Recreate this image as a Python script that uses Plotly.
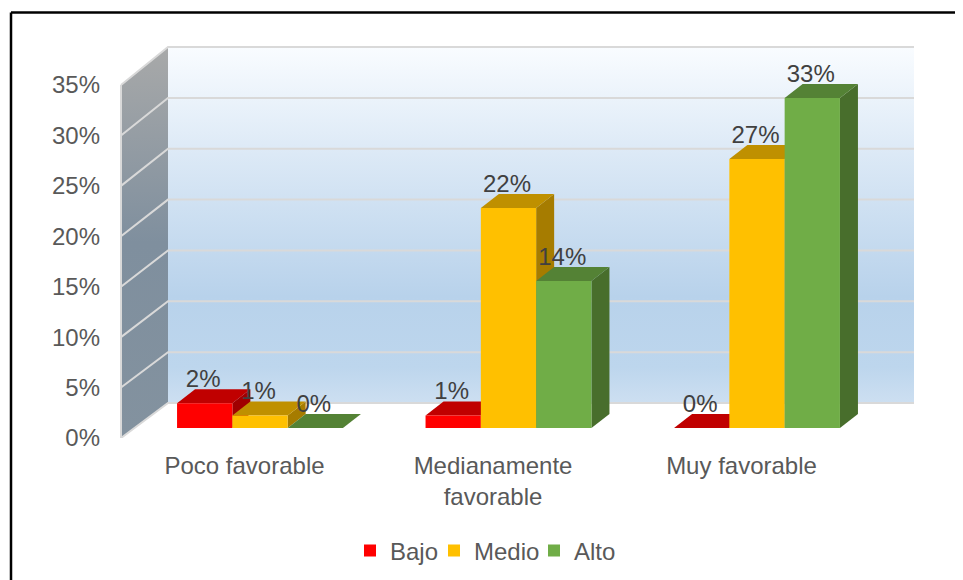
import plotly.graph_objects as go

categories = ["Poco favorable", "Medianamente<br>favorable", "Muy favorable"]
series_names = ["Bajo", "Medio", "Alto"]
bajo = [2.47, 1.25, 0.0]
medio = [1.25, 22.0, 26.9]
alto = [0.0, 14.7, 33.0]
bajo_labels = ["2%", "1%", "0%"]
medio_labels = ["1%", "22%", "27%"]
alto_labels = ["0%", "14%", "33%"]
y_ticks = [0, 5, 10, 15, 20, 25, 30, 35]
y_tick_labels = ["0%", "5%", "10%", "15%", "20%", "25%", "30%", "35%"]

front_colors = ["#ff0000", "#ffc000", "#70ad47"]
top_colors = ["#c00000", "#bf9000", "#548235"]
side_colors = ["#a00000", "#a67c00", "#486e2c"]
text_grey = "#595959"
label_grey = "#404040"
grid_grey = "#d9d9d9"
FONT = 24

# The page body adds 8 px around the figure; pixel references below are page pixels.
PAGE = 8
W, H = 963, 580
L = 100 - PAGE + 1
T = 20 - PAGE
B = H - (438 - PAGE)
R = 40
PX_PER_CAT = 248.5
X_ORIGIN = 260.0 - PAGE
def xv(px):
    return (px - X_ORIGIN) / PX_PER_CAT

x_range = [xv(L), xv(W - R)]
plot_w = W - L - R
plot_h = H - T - B
axis_px = 10.086
bar_px = 10.0
y_range = [0, plot_h / axis_px]
bar_range = [-1.0, plot_h / bar_px - 1.0]

bar_w = 55.3 / PX_PER_CAT
dx = 18 / PX_PER_CAT
dy = 1.4
back_dx = 47 / PX_PER_CAT
front_x = xv(121 - PAGE)
back_right = xv(914 - PAGE)
back_base = 3.47
back_scale = 1.0083
def back_y(v):
    return back_base + back_scale * v
def paper_x(px):
    return (px - PAGE - L) / plot_w
def paper_y(px):
    return (H - B - (px - PAGE)) / plot_h

fig = go.Figure()

# Walls, on the axis scale of the tick labels
top = y_ticks[-1]
fig.add_trace(go.Scatter(
    x=[front_x + back_dx, back_right, back_right, front_x + back_dx, front_x + back_dx],
    y=[back_y(0), back_y(0), back_y(top), back_y(top), back_y(0)],
    mode="lines", line=dict(width=0), fill="toself",
    fillgradient=dict(type="vertical", colorscale=[[0, "#cddff1"], [0.1, "#bdd6ed"], [0.3, "#b8d2eb"], [0.7, "#dce9f6"], [1, "#f9fcff"]]),
    showlegend=False, hoverinfo="skip"))
fig.add_trace(go.Scatter(
    x=[front_x, front_x + back_dx, front_x + back_dx, front_x, front_x],
    y=[0, back_y(0), back_y(top), top, 0],
    mode="lines", line=dict(width=0), fill="toself",
    fillgradient=dict(type="vertical", colorscale=[[0, "#83929f"], [0.5, "#7f8f9e"], [1, "#a8a9a9"]]),
    showlegend=False, hoverinfo="skip"))
gx, gy = [], []
for t in y_ticks:
    gx += [front_x, front_x + back_dx, back_right, None]
    gy += [t, back_y(t), back_y(t), None]
gx += [front_x, front_x, None]
gy += [0, top, None]
fig.add_trace(go.Scatter(x=gx, y=gy, mode="lines", line=dict(color=grid_grey, width=2),
                         showlegend=False, hoverinfo="skip"))

# Top and side faces, on the bar scale, under the front faces
all_vals = [bajo, medio, alto]
all_labels = [bajo_labels, medio_labels, alto_labels]
for i in range(len(categories)):
    for j, vals in enumerate(all_vals):
        v = vals[i]
        c = i + (j - 1) * bar_w
        xl, xr = c - bar_w / 2, c + bar_w / 2
        fig.add_trace(go.Scatter(
            x=[xr, xr + dx, xr + dx, xr, xr], y=[v, v + dy, dy, 0, v],
            mode="lines", line=dict(width=0), fill="toself", fillcolor=side_colors[j],
            xaxis="x", yaxis="y2", showlegend=False, hoverinfo="skip"))
        fig.add_trace(go.Scatter(
            x=[xl, xl + dx, xr + dx, xr, xl], y=[v, v + dy, v + dy, v, v],
            mode="lines", line=dict(width=0), fill="toself", fillcolor=top_colors[j],
            xaxis="x", yaxis="y2", showlegend=False, hoverinfo="skip"))

# Front faces and legends
x_idx = list(range(len(categories)))
legend_ids = ["legend", "legend2", "legend3"]
for j, vals in enumerate(all_vals):
    fig.add_trace(go.Bar(x=x_idx, y=vals, name=series_names[j], marker_color=front_colors[j],
                         marker_line_width=0, xaxis="x", yaxis="y3", hoverinfo="skip",
                         legend=legend_ids[j], showlegend=True))
# Data labels
text_dx = -1.5 / PX_PER_CAT
for j, vals in enumerate(all_vals):
    fig.add_trace(go.Scatter(
        x=[i + (j - 1) * bar_w + text_dx for i in x_idx], y=[v + 2.25 for v in vals],
        text=all_labels[j], mode="text", textposition="middle center",
        textfont=dict(family="Liberation Sans", size=FONT, color=label_grey),
        xaxis="x", yaxis="y3", showlegend=False, hoverinfo="skip"))

def legend_at(px):
    return dict(orientation="h", xref="container", yref="container",
                x=(px - PAGE) / W, xanchor="left", y=1 - (551 - PAGE) / H, yanchor="middle",
                font=dict(size=FONT, color=text_grey), bgcolor="rgba(0,0,0,0)",
                itemclick=False, itemdoubleclick=False)

label_shift = -15.5 / PX_PER_CAT
frame_x = paper_x(11)
frame_y = paper_y(12.5)
fig.update_layout(
    width=W, height=H,
    margin=dict(l=L, r=R, t=T, b=B, pad=0),
    paper_bgcolor="white", plot_bgcolor="rgba(0,0,0,0)",
    font=dict(family="Liberation Sans", size=FONT, color=text_grey),
    barmode="group", bargap=1 - 3 * bar_w, bargroupgap=0,
    xaxis=dict(range=x_range, showgrid=False, zeroline=False, showline=False,
               tickmode="array", tickvals=[i + label_shift for i in x_idx], ticktext=categories,
               ticks="outside", ticklen=6, tickcolor="rgba(0,0,0,0)",
               tickfont=dict(size=FONT, color=text_grey)),
    yaxis=dict(range=y_range, showgrid=False, zeroline=False, showline=False,
               tickmode="array", tickvals=y_ticks, ticktext=y_tick_labels,
               ticks="", tickfont=dict(size=FONT, color=text_grey)),
    yaxis2=dict(range=bar_range, overlaying="y", visible=False),
    yaxis3=dict(range=bar_range, overlaying="y", visible=False),
    legend=legend_at(350),
    legend2=legend_at(434),
    legend3=legend_at(534),
    shapes=[
        dict(type="line", xref="paper", yref="paper", x0=frame_x, x1=frame_x, y0=frame_y, y1=paper_y(600),
             line=dict(color="#000000", width=2.5)),
        dict(type="line", xref="paper", yref="paper", x0=frame_x, x1=paper_x(980), y0=frame_y, y1=frame_y,
             line=dict(color="#000000", width=2.5)),
    ],
)
fig.write_html("out.html")
